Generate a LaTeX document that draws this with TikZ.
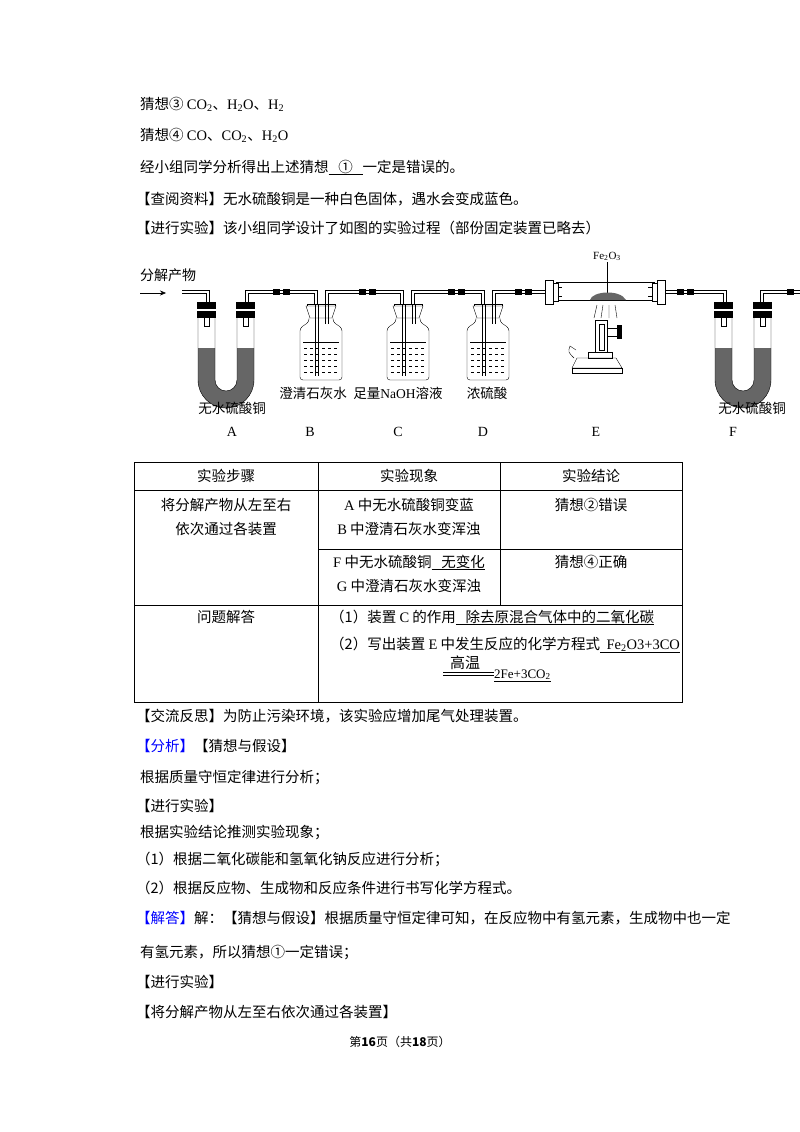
\documentclass[tikz,border=0pt]{standalone}
\usepackage{fontspec}
\setmainfont{Noto Sans CJK SC}
\newfontfamily\lt{Liberation Serif}
\usetikzlibrary{patterns,arrows.meta}
\tikzset{
 txt/.style={anchor=base west,inner sep=0,font=\fontsize{14.5}{17}\selectfont},
 ctxt/.style={anchor=base,inner sep=0,font=\fontsize{14.5}{17}\selectfont},
 lab/.style={anchor=base,inner sep=0,font=\fontsize{13.5}{16}\selectfont},
 pipe/.style={double,double distance=2pt,line width=0.6pt},
 joint/.style={fill=black,minimum width=7pt,minimum height=6pt,inner sep=0},
 gran/.style={fill=black!60},
}
\newcommand{\ul}[1]{\underline{#1}}
\begin{document}
\begin{tikzpicture}[x=1pt,y=-1pt]
\fill[white] (0,0) rectangle (800,1132);
\useasboundingbox (0,0) rectangle (800,1132);
% header text
\node[txt] (t1) at (140,109) {猜想③ {\lt CO\textsubscript{2}}、{\lt H\textsubscript{2}O}、{\lt H\textsubscript{2}}};
\node[txt] (t2) at (140,140) {猜想④ {\lt CO}、{\lt CO\textsubscript{2}}、{\lt H\textsubscript{2}O}};
\node[txt] (t3) at (140,172) {经小组同学分析得出上述猜想\ul{\ \ \ ①\ \ \ }一定是错误的。};
\node[txt] (t4) at (136,204) {【查阅资料】无水硫酸铜是一种白色固体，遇水会变成蓝色。};
\node[txt] (t5) at (136,233) {【进行实验】该小组同学设计了如图的实验过程（部份固定装置已略去）};
% ===== apparatus =====
\node[anchor=base west,inner sep=0,font=\fontsize{14}{16}\selectfont] (in) at (140,280) {分解产物};
\draw[-{Stealth[length=6pt,width=5pt]}] (140,293) -- (166,293);
\draw[pipe] (182,292) -- (208,292) -- (208,305);
\draw[pipe] (247,305) -- (247,292) -- (316,292) -- (316,305);
\draw[pipe] (327,305) -- (327,292) -- (402,292) -- (402,305);
\draw[pipe] (413,305) -- (413,292) -- (483,292) -- (483,305);
\draw[pipe] (494,305) -- (494,292) -- (545,292);
\draw[pipe] (665,292) -- (725,292) -- (725,305);
\draw[pipe] (762,305) -- (762,292) -- (800,292);
\foreach \x in {276,286,362,372,451,461,518,528,680,690,790} \node[joint] at (\x,292) {};
% U tubes
\foreach \ux/\nm in {198/UA,715/UF}{
 \begin{scope}[shift={(\ux,318)}]
 \fill[gran] (0,30) -- (0,62) arc[start angle=180,end angle=0,radius=28] -- (56,30) -- (39,30) -- (39,62) arc[start angle=0,end angle=180,radius=11] -- (17,30) -- cycle;
 \draw (0,0) -- (0,62) arc[start angle=180,end angle=0,radius=28] -- (56,0);
 \draw (17,0) -- (17,62) arc[start angle=180,end angle=0,radius=11] -- (39,0);
 \foreach \a in {-1,38}{
  \fill (\a,-16) rectangle ++(19,7);
  \fill (\a,-7) rectangle ++(19,7);
  \draw (\a+7,0) -- (\a+7,8) -- (\a+12,8) -- (\a+12,0);}
 \coordinate (\nm) at (28,0);
 \end{scope}}
% bottles
\foreach \bx/\nm in {321/BB,408/BC,488/BD}{
 \begin{scope}[shift={(\bx,318)}]
 \draw[rounded corners=3pt] (-12,0) -- (-12,4) -- (-21,10) -- (-21,62) -- (21,62) -- (21,10) -- (12,4) -- (12,0);
 \draw[fill=white] (-15,-12) -- (15,-12) -- (11,0) -- (-11,0) -- cycle;
 \draw (-14,-12) -- (-14,-14) -- (14,-14) -- (14,-12);
 \draw (-18,24) -- (18,24);
 \foreach \yy in {30,36,42,48,54} \draw[dashed] (-17,\yy) -- (17,\yy);
 \draw (-6,-13) -- (-6,58) (-3,-13) -- (-3,58);
 \draw (4,-13) -- (4,6) (7,-13) -- (7,6);
 \coordinate (\nm) at (0,0);
 \end{scope}}
% E tube
\draw (556,282) -- (655,282) (556,300) -- (655,300);
\foreach \ex/\s in {545/1,665/-1}{
 \draw[fill=white] (\ex,280) rectangle ++(\s*8,24);
 \draw[fill=white] (\ex+\s*8,283) rectangle ++(\s*5,18);
 \draw (\ex+\s*13,287) -- ++(\s*4,0) (\ex+\s*13,296) -- ++(\s*4,0);}
\node[anchor=base,inner sep=0,font=\lt\fontsize{11}{13}\selectfont] (fe) at (607,259) {Fe\textsubscript{2}O\textsubscript{3}};
\draw (607,262) -- (607,294);
\fill[gran] (590,300) .. controls (592,291) and (620,289) .. (626,300) -- cycle;
\draw (597,305) -- (594,318) (603,305) -- (601,318) (609,305) -- (609,318) (615,305) -- (617,318);
% burner
\draw (595,320) rectangle (607,352);
\draw (599,324) rectangle (604,350);
\draw (607,328) -- (617,328) (607,336) -- (617,336);
\fill (617,325) rectangle (622,339);
\draw (588,352) rectangle (612,358);
\draw (577,358) -- (616,358) -- (622,368) -- (572,368) -- cycle;
\draw (572,368) rectangle (622,373);
\draw (574,358) .. controls (568,352) .. (570,346) -- (576,350);
% labels
\node[lab] (la1) at (232,413) {无水硫酸铜};
\node[lab] (lb1) at (313,398) {澄清石灰水};
\node[lab] (lc1) at (398,398) {足量{\lt NaOH}溶液};
\node[lab] (ld1) at (487,398) {浓硫酸};
\node[lab] (lf1) at (752,413) {无水硫酸铜};
\foreach \lx/\ll in {232/A,310/B,398/C,483/D,596/E,733/F}
 \node[anchor=base,inner sep=0,font=\lt\fontsize{14}{16}\selectfont] (L\ll) at (\lx,436) {\ll};
% ===== table =====
\draw (134,462) rectangle (682,702);
\draw (134,490) -- (682,490) (134,605) -- (682,605) (318,549) -- (682,549);
\draw (318,462) -- (318,702) (500,462) -- (500,605);
\node[ctxt] (h1) at (226,481) {实验步骤};
\node[ctxt] (h2) at (409,481) {实验现象};
\node[ctxt] (h3) at (591,481) {实验结论};
\node[ctxt] (c1) at (226,510) {将分解产物从左至右};
\node[ctxt] (c2) at (226,534) {依次通过各装置};
\node[ctxt] (c3) at (409,510) {{\lt A} 中无水硫酸铜变蓝};
\node[ctxt] (c4) at (409,534) {{\lt B} 中澄清石灰水变浑浊};
\node[ctxt] (c5) at (591,510) {猜想②错误};
\node[ctxt] (c6) at (409,567) {{\lt F} 中无水硫酸铜\ul{\ \ \ 无变化}};
\node[ctxt] (c7) at (409,591) {{\lt G} 中澄清石灰水变浑浊};
\node[ctxt] (c8) at (591,567) {猜想④正确};
\node[ctxt] (c9) at (226,622) {问题解答};
\node[txt] (c10) at (330,622) {（1）装置 {\lt C} 的作用\ul{\ \ \ 除去原混合气体中的二氧化碳}};
\node[txt] (c11) at (330,649) {（2）写出装置 {\lt E} 中发生反应的化学方程式\ul{\ \ {\lt Fe\textsubscript{2}O3+3CO}}};
\node[anchor=base,inner sep=0,font=\fontsize{15}{17}\selectfont] (gw) at (465,668) {高温};
\draw (443,672) -- (494,672) (443,675) -- (494,675);
\node[anchor=base west,inner sep=0,font=\lt\fontsize{13}{15}\selectfont] (pr) at (494,678) {\ul{2Fe+3CO\textsubscript{2}}};
% ===== after text =====
\node[txt] (a1) at (136,721) {【交流反思】为防止污染环境，该实验应增加尾气处理装置。};
\node[txt] (a2) at (136,751) {\textcolor{blue}{【分析】}【猜想与假设】};
\node[txt] (a3) at (140,782) {根据质量守恒定律进行分析；};
\node[txt] (a4) at (136,811) {【进行实验】};
\node[txt] (a5) at (140,837) {根据实验结论推测实验现象；};
\node[txt] (a6) at (136,864) {（1）根据二氧化碳能和氢氧化钠反应进行分析；};
\node[txt] (a7) at (136,893) {（2）根据反应物、生成物和反应条件进行书写化学方程式。};
\node[txt] (a8) at (136,923) {\textcolor{blue}{【解答】}解：【猜想与假设】根据质量守恒定律可知，在反应物中有氢元素，生成物中也一定};
\node[txt] (a9) at (140,957) {有氢元素，所以猜想①一定错误；};
\node[txt] (a10) at (136,987) {【进行实验】};
\node[txt] (a11) at (136,1017) {【将分解产物从左至右依次通过各装置】};
\node[anchor=base,inner sep=0,font=\fontsize{12}{14}\selectfont] (ft) at (400,1046) {第\textbf{16}页（共\textbf{18}页）};
\end{tikzpicture}
\end{document}
